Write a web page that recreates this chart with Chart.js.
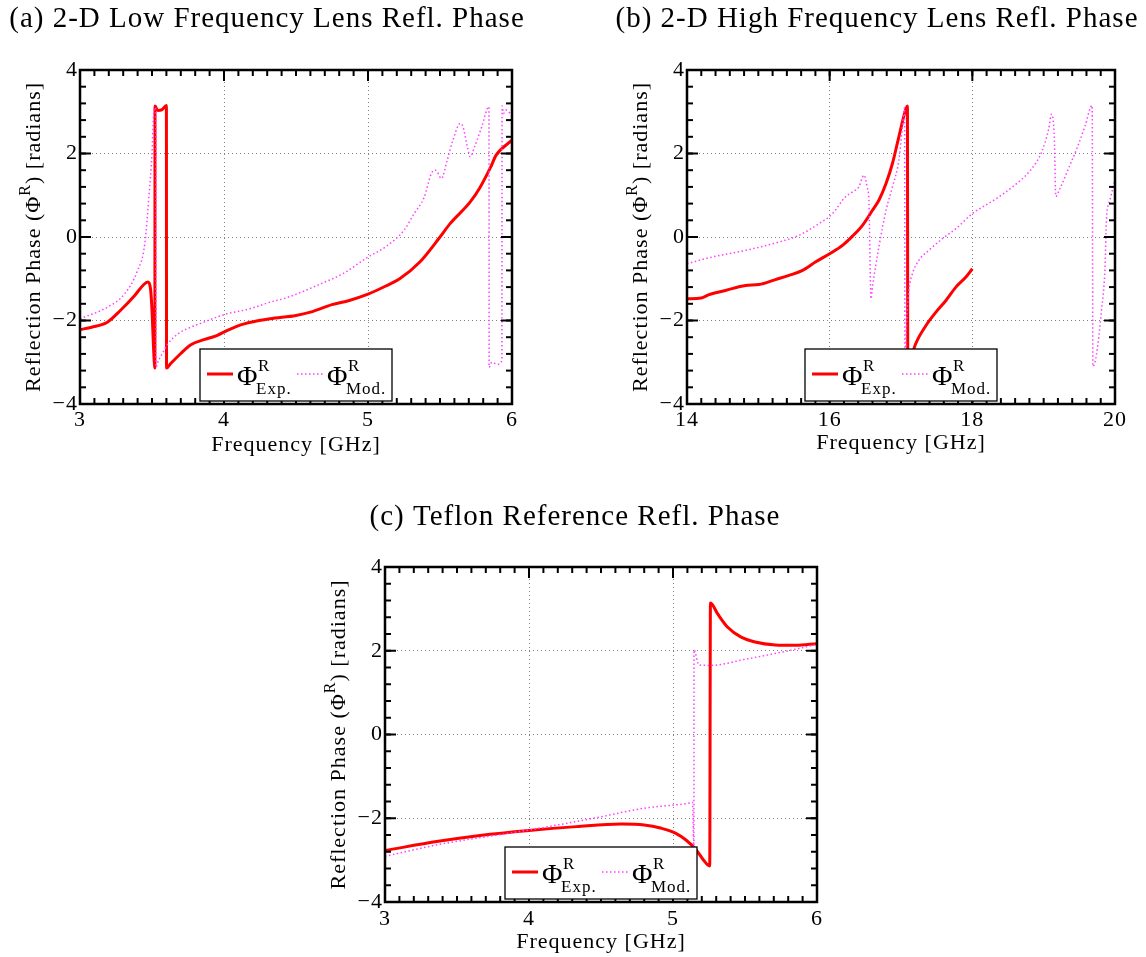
<!DOCTYPE html>
<html>
<head>
<meta charset="utf-8">
<title>Reflection phase</title>
<script src="https://cdn.jsdelivr.net/npm/chart.js@4"></script>
<style>
  html, body { margin: 0; padding: 0; background: #fff; }
  body { position: relative; width: 1146px; height: 957px; overflow: hidden; }
  canvas { position: absolute; }
  #low { left: 0; top: 0; }
  #high { left: 580px; top: 0; }
  #teflon { left: 290px; top: 490px; }
</style>
</head>
<body>
<canvas id="low" width="560" height="470"></canvas>
<canvas id="high" width="566" height="470"></canvas>
<canvas id="teflon" width="566" height="467"></canvas>
<script>
// (a) low band lens, 3-6 GHz
const lowExpFreq = [3.00, 3.08, 3.19, 3.28, 3.38, 3.44, 3.47, 3.49, 3.50, 3.51, 3.52, 3.521, 3.54, 3.57, 3.60, 3.601, 3.63, 3.70, 3.77, 3.86, 3.95, 4.02, 4.14, 4.32, 4.50, 4.60, 4.75, 4.87, 5.00, 5.12, 5.22, 5.36, 5.50, 5.57, 5.71, 5.78, 5.85, 5.89, 6.00];
const lowExpPhase = [-2.22, -2.16, -2.04, -1.76, -1.40, -1.15, -1.08, -1.25, -1.75, -2.60, -3.14, 3.14, 3.03, 3.05, 3.15, -3.14, -3.03, -2.79, -2.58, -2.46, -2.36, -2.24, -2.08, -1.96, -1.88, -1.80, -1.62, -1.52, -1.37, -1.18, -1.00, -0.60, 0.00, 0.32, 0.84, 1.20, 1.66, 1.96, 2.32];
const lowModFreq = [3.00, 3.19, 3.31, 3.40, 3.45, 3.48, 3.50, 3.51, 3.52, 3.527, 3.528, 3.54, 3.57, 3.61, 3.68, 3.77, 3.86, 3.95, 4.02, 4.18, 4.32, 4.43, 4.68, 4.83, 5.00, 5.12, 5.25, 5.32, 5.39, 5.44, 5.47, 5.51, 5.55, 5.59, 5.64, 5.66, 5.69, 5.71, 5.74, 5.79, 5.84, 5.841, 5.86, 5.90, 5.93, 5.931, 5.94, 5.96, 6.00];
const lowModPhase = [-1.96, -1.68, -1.36, -0.80, -0.16, 1.04, 2.00, 2.90, 3.10, 3.05, -3.12, -3.00, -2.80, -2.56, -2.32, -2.16, -2.04, -1.92, -1.84, -1.72, -1.56, -1.46, -1.11, -0.87, -0.48, -0.24, 0.16, 0.56, 0.95, 1.52, 1.60, 1.40, 1.84, 2.32, 2.72, 2.64, 2.16, 1.92, 2.16, 2.64, 3.12, -3.12, -3.00, -3.05, -2.95, 3.14, 2.96, 3.04, 2.90];

// (b) high band lens, 14-20 GHz
const highExpFreq = [14.00, 14.20, 14.31, 14.54, 14.82, 15.01, 15.24, 15.43, 15.62, 15.80, 16.00, 16.18, 16.32, 16.46, 16.60, 16.69, 16.79, 16.88, 16.97, 17.07, 17.09, 17.095, 17.15, 17.20, 17.35, 17.49, 17.63, 17.77, 17.91, 18.00];
const highExpPhase = [-1.48, -1.46, -1.38, -1.28, -1.16, -1.14, -1.02, -0.92, -0.80, -0.60, -0.40, -0.20, 0.02, 0.28, 0.64, 0.88, 1.28, 1.76, 2.40, 3.08, 3.14, -3.14, -2.85, -2.58, -2.12, -1.80, -1.52, -1.20, -0.96, -0.76];
const highModFreq = [14.00, 14.35, 14.82, 15.29, 15.57, 15.85, 16.04, 16.22, 16.32, 16.41, 16.48, 16.53, 16.55, 16.58, 16.60, 16.69, 16.79, 16.88, 16.97, 17.02, 17.05, 17.055, 17.08, 17.11, 17.16, 17.25, 17.39, 17.58, 17.77, 18.00, 18.31, 18.57, 18.82, 18.97, 19.07, 19.11, 19.15, 19.17, 19.22, 19.38, 19.48, 19.58, 19.68, 19.69, 19.74, 19.81, 19.86, 19.88, 19.93, 20.00];
const highModPhase = [-0.64, -0.48, -0.32, -0.12, 0.04, 0.32, 0.56, 0.96, 1.08, 1.20, 1.48, 1.16, 0.88, -1.48, -1.20, -0.24, 0.64, 1.20, 1.84, 2.64, 3.10, -3.10, -2.00, -1.28, -0.88, -0.56, -0.32, -0.04, 0.20, 0.56, 0.89, 1.21, 1.61, 2.03, 2.58, 2.94, 2.34, 0.97, 1.13, 1.77, 2.18, 2.66, 3.15, -3.10, -2.82, -1.77, -0.73, 0.40, 0.89, 1.37];

// (c) teflon reference, 3-6 GHz
const teflonExpFreq = [3.00, 3.37, 3.66, 4.00, 4.33, 4.64, 4.80, 4.92, 5.02, 5.09, 5.16, 5.21, 5.255, 5.26, 5.31, 5.38, 5.47, 5.57, 5.71, 5.85, 6.00];
const teflonExpPhase = [-2.77, -2.55, -2.41, -2.29, -2.20, -2.14, -2.16, -2.24, -2.36, -2.52, -2.75, -2.99, -3.14, 3.14, 2.88, 2.56, 2.33, 2.21, 2.14, 2.13, 2.17];
const teflonModFreq = [3.00, 3.37, 4.00, 4.45, 4.80, 5.11, 5.135, 5.145, 5.146, 5.18, 5.26, 5.52, 5.76, 6.00];
const teflonModPhase = [-2.91, -2.63, -2.28, -2.00, -1.76, -1.64, -1.62, -2.70, 2.02, 1.66, 1.65, 1.81, 1.97, 2.15];

// axis tick labels
const phaseTicks = [-4, -2, 0, 2, 4];
const lowTicks = [3, 4, 5, 6];
const highTicks = [14, 16, 18, 20];
const legendSubs = ['Exp.', 'Mod.'];

const FONT = '"Liberation Serif", "Times New Roman", serif';
Chart.defaults.font.family = FONT;
Chart.defaults.font.size = 22;
Chart.defaults.color = '#000';

const pts = (xs, ys) => xs.map((x, i) => ({ x, y: ys[i] }));
const fmt = v => (v < 0 ? '\u2212' + (-v) : String(v));
const gridColor = c => {
  const v = c.tick && c.tick.value;
  return (v === c.scale.min || v === c.scale.max) ? 'rgba(0,0,0,0)' : '#808080';
};

// box frame, inward ticks, legend, panel title and y title
const framePlugin = {
  id: 'frame',
  beforeDraw(chart) {
    chart.ctx.letterSpacing = '1px';
  },
  afterDatasetsDraw(chart, args, opts) {
    const { ctx, chartArea: a, scales: { x, y } } = chart;
    const seg = (x1, y1, x2, y2) => { ctx.beginPath(); ctx.moveTo(x1, y1); ctx.lineTo(x2, y2); ctx.stroke(); };
    const steps = (min, max, step) => {
      const n = Math.round((max - min) / step);
      const out = [];
      for (let i = 0; i <= n; i++) out.push(min + i * step);
      return out;
    };
    ctx.save();
    ctx.strokeStyle = '#000';
    ctx.lineWidth = 2;
    steps(x.min, x.max, opts.minorX).forEach(v => {
      const p = x.getPixelForValue(v);
      seg(p, a.top, p, a.top + 6); seg(p, a.bottom, p, a.bottom - 6);
    });
    steps(y.min, y.max, opts.minorY).forEach(v => {
      const p = y.getPixelForValue(v);
      seg(a.left, p, a.left + 6, p); seg(a.right, p, a.right - 6, p);
    });
    x.ticks.forEach(t => {
      const p = x.getPixelForValue(t.value);
      seg(p, a.top, p, a.top + 11); seg(p, a.bottom, p, a.bottom - 11);
    });
    y.ticks.forEach(t => {
      const p = y.getPixelForValue(t.value);
      seg(a.left, p, a.left + 11, p); seg(a.right, p, a.right - 11, p);
    });
    ctx.lineWidth = 2.5;
    ctx.strokeRect(a.left, a.top, a.right - a.left, a.bottom - a.top);

    // legend, south inside
    const w = 192, h = 52;
    const lx = Math.round((a.left + a.right) / 2 - w / 2);
    const ly = Math.round(a.bottom - 3 - h);
    ctx.fillStyle = '#fff';
    ctx.fillRect(lx, ly, w, h);
    ctx.lineWidth = 1.3;
    ctx.strokeRect(lx, ly, w, h);
    chart.data.datasets.forEach((ds, i) => {
      const ox = lx + 7 + i * 90;
      ctx.save();
      ctx.strokeStyle = ds.borderColor;
      ctx.lineWidth = ds.borderWidth;
      ctx.setLineDash(ds.borderDash || []);
      seg(ox, ly + 25, ox + 26, ly + 25);
      ctx.restore();
      ctx.fillStyle = '#000';
      ctx.textAlign = 'left';
      ctx.textBaseline = 'alphabetic';
      ctx.letterSpacing = '0px';
      ctx.font = '28px ' + FONT;
      ctx.fillText('\u03A6', ox + 30, ly + 36);
      ctx.letterSpacing = '1px';
      ctx.font = '17px ' + FONT;
      ctx.fillText('R', ox + 51, ly + 22);
      ctx.fillText(legendSubs[i], ox + 49, ly + 45);
    });
    ctx.restore();
  },
  afterDraw(chart, args, opts) {
    const { ctx, chartArea: a } = chart;
    ctx.save();
    ctx.fillStyle = '#000';
    ctx.font = '29px ' + FONT;
    ctx.letterSpacing = '1px';
    ctx.textAlign = 'center';
    ctx.textBaseline = 'middle';
    ctx.fillText(opts.title, opts.titleX, opts.titleY);

    const parts = [['Reflection Phase (\u03A6', 22, 0], ['R', 16, -8], [') [radians]', 22, 0]];
    ctx.translate(a.left - 46, (a.top + a.bottom) / 2);
    ctx.rotate(-Math.PI / 2);
    ctx.textAlign = 'left';
    ctx.letterSpacing = '1px';
    const widths = parts.map(([t, s]) => { ctx.font = s + 'px ' + FONT; return ctx.measureText(t).width; });
    let cx = -widths.reduce((p, q) => p + q, 0) / 2;
    parts.forEach(([t, s, dy], i) => {
      ctx.font = s + 'px ' + FONT;
      ctx.fillText(t, cx, dy);
      cx += widths[i];
    });
    ctx.restore();
  }
};

function phaseChart(id, cfg) {
  const xMin = cfg.xTicks[0], xMax = cfg.xTicks[cfg.xTicks.length - 1];
  return new Chart(document.getElementById(id), {
    type: 'line',
    data: {
      datasets: [
        { label: 'Exp.', data: pts(cfg.expFreq, cfg.expPhase), borderColor: '#ff0000', borderWidth: 3, order: 1 },
        { label: 'Mod.', data: pts(cfg.modFreq, cfg.modPhase), borderColor: '#ff40ff', borderWidth: 1.5, borderDash: [1.5, 2.5], order: 0 }
      ]
    },
    options: {
      responsive: false,
      animation: false,
      devicePixelRatio: 1,
      elements: {
        point: { radius: 0 },
        line: { cubicInterpolationMode: 'monotone', borderJoinStyle: 'round', fill: false }
      },
      layout: { padding: { left: 0, top: cfg.top, right: cfg.right, bottom: 0 } },
      plugins: {
        legend: { display: false },
        tooltip: { enabled: false },
        frame: { title: cfg.title, titleX: cfg.titleX, titleY: cfg.titleY, minorX: cfg.minorX, minorY: 0.4 }
      },
      scales: {
        x: {
          type: 'linear',
          min: xMin,
          max: xMax,
          afterBuildTicks: s => { s.ticks = cfg.xTicks.map(value => ({ value })); },
          afterFit: s => { s.height = cfg.xHeight; s.paddingLeft = 0; s.paddingRight = 0; },
          ticks: { padding: cfg.tickPad, maxRotation: 0, autoSkip: false, callback: fmt },
          grid: { color: gridColor, lineWidth: 1, drawTicks: false, tickLength: 0 },
          border: { display: false, dash: [1, 3] },
          title: { display: true, text: 'Frequency [GHz]', padding: { top: 0, bottom: cfg.titlePad } }
        },
        y: {
          type: 'linear',
          min: phaseTicks[0],
          max: phaseTicks[phaseTicks.length - 1],
          afterBuildTicks: s => { s.ticks = phaseTicks.map(value => ({ value })); },
          afterFit: s => { s.width = cfg.yWidth; s.paddingTop = 0; s.paddingBottom = 0; },
          ticks: { padding: 2, autoSkip: false, callback: fmt },
          grid: { color: gridColor, lineWidth: 1, drawTicks: false, tickLength: 0 },
          border: { display: false, dash: [1, 3] }
        }
      }
    },
    plugins: [framePlugin]
  });
}

phaseChart('low', {
  expFreq: lowExpFreq, expPhase: lowExpPhase, modFreq: lowModFreq, modPhase: lowModPhase,
  xTicks: lowTicks, minorX: 0.1,
  title: '(a) 2-D Low Frequency Lens Refl. Phase', titleX: 267, titleY: 19,
  top: 70, right: 48, yWidth: 80, xHeight: 66, tickPad: 3, titlePad: 12
});

phaseChart('high', {
  expFreq: highExpFreq, expPhase: highExpPhase, modFreq: highModFreq, modPhase: highModPhase,
  xTicks: highTicks, minorX: 0.2,
  title: '(b) 2-D High Frequency Lens Refl. Phase', titleX: 297, titleY: 19,
  top: 70, right: 31, yWidth: 107, xHeight: 66, tickPad: 3, titlePad: 14
});

phaseChart('teflon', {
  expFreq: teflonExpFreq, expPhase: teflonExpPhase, modFreq: teflonModFreq, modPhase: teflonModPhase,
  xTicks: lowTicks, minorX: 0.1,
  title: '(c) Teflon Reference Refl. Phase', titleX: 285, titleY: 27,
  top: 77, right: 39, yWidth: 95, xHeight: 55, tickPad: 4, titlePad: 2
});
</script>
</body>
</html>
